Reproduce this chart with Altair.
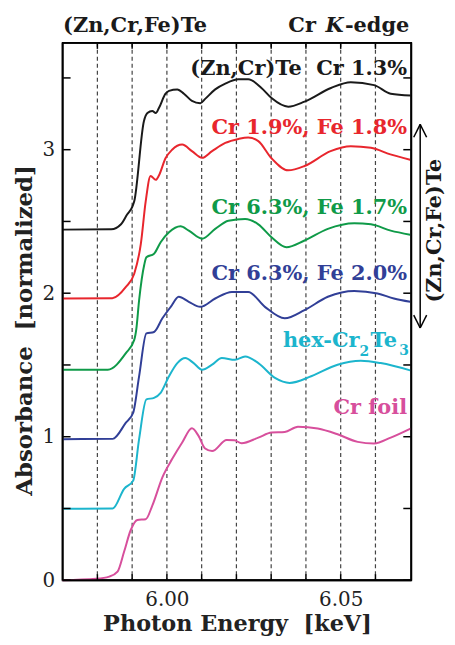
import altair as alt
import pandas as pd

# ---- data ----
zncr_x = [5.970, 5.984, 5.9868, 5.9886, 5.990, 5.9906, 5.9934, 5.9944, 5.9958, 5.9968, 5.9977, 5.9996,
          6.0006, 6.003, 6.0049, 6.0072, 6.0096, 6.011, 6.0139, 6.0168, 6.0206, 6.0234, 6.0272, 6.0301,
          6.0349, 6.0396, 6.0472, 6.0529, 6.0596, 6.0644, 6.0701]
zncr_y = [2.443, 2.445, 2.48, 2.55, 2.60, 2.64, 3.20, 3.255, 3.27, 3.255, 3.29, 3.39,
          3.41, 3.42, 3.39, 3.34, 3.324, 3.354, 3.42, 3.46, 3.49, 3.49, 3.43, 3.36,
          3.30, 3.335, 3.43, 3.47, 3.45, 3.39, 3.377]

fe18_x = [5.970, 5.9843, 5.9882, 5.9906, 5.9925, 5.9939, 5.9953, 5.9968, 5.9977, 5.9996, 6.0015, 6.0044,
          6.0072, 6.0101, 6.013, 6.0168, 6.0206, 6.0234, 6.0263, 6.0301, 6.0349, 6.0396, 6.0471, 6.0529,
          6.0587, 6.0643, 6.070]
fe18_y = [1.963, 1.965, 2.044, 2.136, 2.344, 2.64, 2.817, 2.79, 2.82, 2.94, 3.00, 3.036,
          2.99, 2.943, 2.99, 3.047, 3.075, 3.085, 3.06, 2.94, 2.856, 2.886, 2.99, 3.024,
          3.013, 2.967, 2.93]

fe17_x = [5.970, 5.983, 5.9882, 5.9906, 5.9912, 5.992, 5.9935, 5.9941, 5.9963, 5.9982, 6.0006, 6.0039,
          6.0063, 6.0101, 6.0139, 6.0177, 6.0225, 6.0263, 6.0301, 6.0344, 6.0396, 6.0463, 6.0539, 6.0587,
          6.0644, 6.070]
fe17_y = [1.467, 1.467, 1.583, 1.675, 1.75, 1.95, 2.2, 2.25, 2.275, 2.355, 2.424, 2.466,
          2.436, 2.38, 2.448, 2.505, 2.517, 2.48, 2.39, 2.32, 2.367, 2.448, 2.487, 2.48,
          2.436, 2.408]

fe20_x = [5.970, 5.9844, 5.9882, 5.9903, 5.992, 5.9941, 5.9963, 5.9987, 6.0011, 6.0034, 6.0063, 6.0096,
          6.0139, 6.0187, 6.0234, 6.0282, 6.0339, 6.0396, 6.0463, 6.0539, 6.0606, 6.0653, 6.070]
fe20_y = [0.983, 0.985, 1.098, 1.167, 1.42, 1.72, 1.73, 1.825, 1.905, 1.975, 1.94, 1.905,
          1.963, 2.009, 2.009, 1.905, 1.825, 1.882, 1.975, 2.016, 1.998, 1.963, 1.94]

hex_x = [5.970, 5.9844, 5.9877, 5.9903, 5.992, 5.9941, 5.9963, 5.9982, 6.0006, 6.003, 6.0053, 6.0077,
         6.0101, 6.013, 6.0158, 6.0196, 6.0225, 6.0263, 6.0311, 6.0353, 6.0415, 6.0491, 6.0558, 6.0615,
         6.070]
hex_y = [0.498, 0.50, 0.637, 0.694, 0.983, 1.26, 1.271, 1.306, 1.421, 1.513, 1.548, 1.513,
         1.467, 1.502, 1.548, 1.536, 1.559, 1.513, 1.41, 1.375, 1.421, 1.502, 1.529, 1.513,
         1.462]

foil_x = [5.970, 5.9796, 5.9834, 5.9858, 5.9877, 5.9896, 5.9915, 5.9939, 5.9958, 5.9987, 6.0015, 6.0044,
          6.0072, 6.0091, 6.011, 6.013, 6.0172, 6.0194, 6.0215, 6.0263, 6.0301, 6.0339, 6.0377, 6.0434,
          6.0491, 6.0549, 6.0596, 6.0644, 6.0701]
foil_y = [0.0, 0.01, 0.025, 0.06, 0.2, 0.35, 0.42, 0.425, 0.52, 0.717, 0.844, 0.96,
          1.059, 1.006, 0.918, 0.90, 0.977, 0.975, 0.955, 0.994, 1.029, 1.033, 1.07, 1.057,
          1.017, 0.964, 0.953, 0.994, 1.057]

series_names = ["ZnCrTe", "Fe18", "Fe17", "Fe20", "hex", "foil"]
series_colors = ["#1a1a1a", "#e8262d", "#0f9a48", "#313f97", "#1cb5cd", "#d74f9c"]

grid_x = [5.98, 5.99, 6.00, 6.01, 6.02, 6.03, 6.04, 6.05, 6.06]
y_tick_values = [0, 0.5, 1, 1.5, 2, 2.5, 3, 3.5]
y_label_values = [0, 1, 2, 3]
x_label_values = [6.00, 6.05]
X_DOMAIN = [5.97, 6.0703]
Y_DOMAIN = [0, 3.744]

label_text = ["(Zn,Cr)Te\u00a0 Cr 1.3%", "Cr 1.9%, Fe 1.8%", "Cr 6.3%, Fe 1.7%", "Cr 6.3%, Fe 2.0%", "Cr foil"]
label_x = [6.0691, 6.0691, 6.0691, 6.0691, 6.0691]
label_y = [3.52, 3.107, 2.554, 2.09, 1.156]
label_color = ["#1a1a1a", "#e8262d", "#0f9a48", "#313f97", "#d74f9c"]

FONT = "DejaVu Serif"
W, H = 351, 541

# ---- build tables ----
rows = []
for name, xs, ys in zip(series_names,
                        [zncr_x, fe18_x, fe17_x, fe20_x, hex_x, foil_x],
                        [zncr_y, fe18_y, fe17_y, fe20_y, hex_y, foil_y]):
    for xv, yv in zip(xs, ys):
        rows.append({"series": name, "E": xv, "A": yv})
df = pd.DataFrame(rows)

xscale = alt.Scale(domain=X_DOMAIN, nice=False, zero=False)
yscale = alt.Scale(domain=Y_DOMAIN, nice=False, zero=False)

xaxis = alt.Axis(values=x_label_values, format=".2f", ticks=False, domain=False, grid=False,
                 labelFont=FONT, labelFontSize=20, labelColor="#222", labelPadding=9,
                 title="Photon Energy\u00a0 [keV]", titleFont=FONT, titleFontSize=22.5,
                 titleFontWeight="bold", titleColor="#222", titleY=51, titleBaseline="alphabetic")
yaxis = alt.Axis(values=y_label_values, format="d", ticks=False, domain=False, grid=False,
                 labelFont=FONT, labelFontSize=20, labelColor="#222", labelPadding=8,
                 title="Absorbance\u00a0 [normalized]", titleFont=FONT, titleFontSize=23,
                 titleFontWeight="bold", titleColor="#222", titleAngle=270, titleX=-38, titleY=289,
                 titleAlign="center", titleBaseline="middle")

grid = alt.Chart(pd.DataFrame({"gx": grid_x})).mark_rule(
    strokeDash=[4, 3], color="#444", strokeWidth=1.2
).encode(x=alt.X("gx:Q", scale=xscale, axis=xaxis))

lines = alt.Chart(df).mark_line(strokeWidth=2, interpolate="monotone").encode(
    x=alt.X("E:Q", scale=xscale),
    y=alt.Y("A:Q", scale=yscale, axis=yaxis),
    color=alt.Color("series:N", scale=alt.Scale(domain=series_names, range=series_colors), legend=None),
    detail="series:N",
)

# frame drawn through the scales (vertical and horizontal solid rules at the domain edges)
frame_v = alt.Chart(pd.DataFrame({"fx": X_DOMAIN})).mark_rule(color="black", strokeWidth=1.8).encode(
    x=alt.X("fx:Q", scale=xscale))
frame_h = alt.Chart(pd.DataFrame({"fy": Y_DOMAIN})).mark_rule(color="black", strokeWidth=1.8).encode(
    y=alt.Y("fy:Q", scale=yscale))

yt = pd.DataFrame({"yv": y_tick_values})
ytick_l = alt.Chart(yt).mark_rule(color="black", strokeWidth=1.5).encode(
    y=alt.Y("yv:Q", scale=yscale), x=alt.value(0.5), x2=alt.value(8))
ytick_r = alt.Chart(yt).mark_rule(color="black", strokeWidth=1.5).encode(
    y=alt.Y("yv:Q", scale=yscale), x=alt.value(W - 8), x2=alt.value(W - 0.5))

xt = pd.DataFrame({"xv": grid_x})
xtick_b = alt.Chart(xt).mark_rule(color="black", strokeWidth=1.5).encode(
    x=alt.X("xv:Q", scale=xscale), y=alt.value(H - 6), y2=alt.value(H - 0.5))
xtick_t = alt.Chart(xt).mark_rule(color="black", strokeWidth=1.5).encode(
    x=alt.X("xv:Q", scale=xscale), y=alt.value(0.5), y2=alt.value(6))

lab_df = pd.DataFrame({"t": label_text, "lx": label_x, "ly": label_y, "c": label_color})
labels = alt.Chart(lab_df).mark_text(align="right", baseline="alphabetic", font=FONT,
                                     fontWeight="bold", fontSize=21).encode(
    x=alt.X("lx:Q", scale=xscale), y=alt.Y("ly:Q", scale=yscale), text="t:N",
    color=alt.Color("c:N", scale=None))

HEXC = "#1cb5cd"
def txt(s, x, y, align="left", size=21, color="#1a1a1a", style="normal", angle=0, baseline="alphabetic"):
    return alt.Chart(pd.DataFrame({"t": [s]})).mark_text(
        align=align, baseline=baseline, font=FONT, fontWeight="bold", fontSize=size,
        color=color, fontStyle=style, angle=angle).encode(
        x=alt.value(x), y=alt.value(y), text="t:N")

hex_parts = [
    txt("hex-Cr", 299, 306, align="right", color=HEXC),
    txt("2", 299, 315, size=14, color=HEXC),
    txt("Te", 310, 306, color=HEXC),
    txt("3", 339, 314, size=14, color=HEXC),
]

top_parts = [
    txt("(Zn,Cr,Fe)Te", 0.5, -11),
    txt("-edge", 349, -11, align="right"),
    txt("K", 283, -11, align="right", style="italic"),
    txt("Cr", 255, -11, align="right"),
]

side_text = txt("(Zn,Cr,Fe)Te", 375, 189, align="center", angle=270, baseline="middle")

def seg(x1, y1, x2, y2, w=1.5):
    return alt.Chart(pd.DataFrame({"a": [0]})).mark_rule(color="black", strokeWidth=w).encode(
        x=alt.value(x1), y=alt.value(y1), x2=alt.value(x2), y2=alt.value(y2))

arrow = [
    seg(360, 82, 360, 287),
    seg(360, 82, 353.5, 95), seg(360, 82, 366.5, 95),
    seg(360, 287, 353.5, 274), seg(360, 287, 366.5, 274),
]

chart = alt.layer(grid, lines, frame_v, frame_h, ytick_l, ytick_r, xtick_b, xtick_t, labels,
                  *hex_parts, *top_parts, side_text, *arrow).properties(
    width=W, height=H,
    autosize=alt.AutoSizeParams(type="none"),
    padding={"left": 55, "top": 33, "right": 36, "bottom": 55},
    background="white",
).configure_view(stroke="black", strokeWidth=1.8)

chart.save("out.html", embed_options={"renderer": "svg", "actions": False})
